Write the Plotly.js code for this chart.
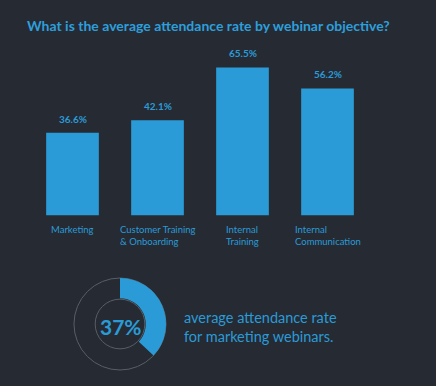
<!DOCTYPE html>
<html><head><meta charset="utf-8">
<script src="https://cdn.plot.ly/plotly-3.0.1.min.js"></script>
<style>html,body{margin:0;padding:0;background:#262a33;}</style>
</head><body>
<div id="chart" style="width:436px;height:386px;"></div>
<script>
const categories = ["Marketing", "Customer Training<br>& Onboarding", "Internal<br>Training", "Internal<br>Communication"];
const attendance = [36.6, 42.1, 65.5, 56.2];
const valueLabels = ["36.6%", "42.1%", "65.5%", "56.2%"];
const donutValue = 37;
const donutLabel = "37%";
const donutCaption = "average attendance rate<br>for marketing webinars.";

const BLUE = "#2a9bd6";
const BG = "#262a33";
const W = 436, H = 386;
const px = v => v / W;
const py = v => 1 - v / H;

const idx = categories.map((c, i) => i);

const bar = {
  type: "bar", x: idx, y: attendance,
  marker: {color: BLUE}, width: 0.62,
  hoverinfo: "none", xaxis: "x", yaxis: "y"
};
const ring = {
  type: "pie", values: [1], labels: ["ring"], hole: 0.54, sort: false,
  marker: {colors: ["rgba(0,0,0,0)"], line: {color: "#585d66", width: 1}},
  textinfo: "none", hoverinfo: "none", showlegend: false,
  domain: {x: [px(74), px(166)], y: [py(370), py(278)]}
};
const donut = {
  type: "pie", values: [donutValue, 100 - donutValue], labels: ["a", "b"],
  hole: 0.56, sort: false, direction: "clockwise", rotation: 0,
  marker: {colors: [BLUE, "rgba(0,0,0,0)"], line: {width: 0}},
  textinfo: "none", hoverinfo: "none", showlegend: false,
  domain: {x: [px(74), px(166)], y: [py(370), py(278)]}
};

const annotations = [];
idx.forEach(i => {
  annotations.push({
    x: i, y: attendance[i], xref: "x", yref: "y", text: "<b>" + valueLabels[i] + "</b>",
    showarrow: false, yanchor: "bottom", yshift: 6,
    font: {family: "Lato", size: 10, color: BLUE, weight: "bold"}
  });
  annotations.push({
    x: i, y: 0, xref: "x", yref: "y", text: categories[i],
    showarrow: false, yanchor: "top", xanchor: "center", align: "left", yshift: -6,
    font: {family: "Lato", size: 9.5, color: BLUE}
  });
});
annotations.push({
  x: px(121), y: py(326), xref: "paper", yref: "paper", text: "<b>" + donutLabel + "</b>",
  showarrow: false, xanchor: "center", yanchor: "middle",
  font: {family: "Lato", size: 21, color: BLUE, weight: "bold"}
});
annotations.push({
  x: px(182), y: py(327), xref: "paper", yref: "paper", text: donutCaption,
  showarrow: false, xanchor: "left", yanchor: "middle", align: "left",
  font: {family: "Lato", size: 14.5, color: BLUE}
});

const layout = {
  width: W, height: H,
  margin: {l: 0, r: 0, t: 0, b: 0},
  paper_bgcolor: BG, plot_bgcolor: BG,
  showlegend: false,
  title: {
    text: "<b>What is the average attendance rate by webinar objective?</b>",
    x: px(27), xanchor: "left", y: py(26), yanchor: "middle",
    font: {family: "Lato", size: 14, color: "#2d9fdb"}
  },
  xaxis: {domain: [px(30), px(370)], range: [-0.5, 3.5], visible: false, fixedrange: true},
  yaxis: {domain: [py(215.5), py(50)], range: [0, 73.2], visible: false, fixedrange: true},
  annotations: annotations
};

Plotly.newPlot("chart", [bar, ring, donut], layout, {displayModeBar: false, staticPlot: true});
</script>
</body></html>
